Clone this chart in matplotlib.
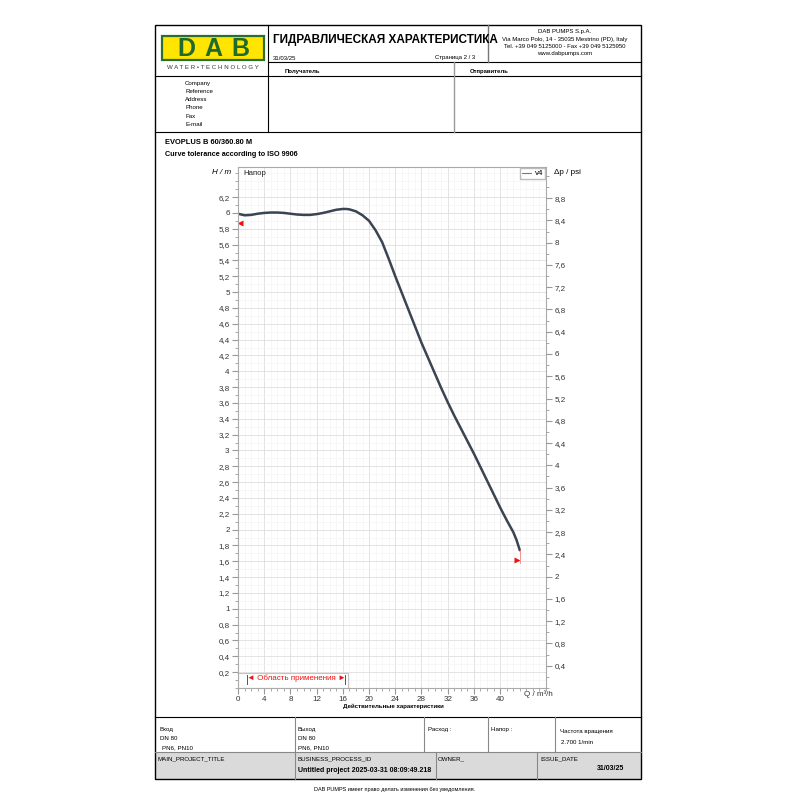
import matplotlib
matplotlib.use("Agg")
import matplotlib.pyplot as plt
from matplotlib.patches import Rectangle
from matplotlib.ticker import MultipleLocator, FixedLocator, FuncFormatter

plt.rcParams['font.family'] = ['Liberation Sans', 'DejaVu Sans']

# pump curve v4
q_flow = [0, 1, 2, 3, 4, 5, 6, 7, 8, 9, 10, 11, 12, 13, 14, 15, 16, 16.5, 17, 18,
          19, 20, 21, 22, 23, 24, 25, 26, 27, 28, 29, 30, 31, 32, 33, 34, 35, 36,
          37, 38, 39, 40, 41, 42, 42.5, 43]
h_head = [5.99, 5.97, 5.975, 5.99, 6.0, 6.005, 6.005, 6.0, 5.99, 5.98, 5.975, 5.975,
          5.985, 6.0, 6.02, 6.04, 6.05, 6.05, 6.045, 6.02, 5.97, 5.90, 5.78, 5.63,
          5.42, 5.20, 4.99, 4.78, 4.57, 4.36, 4.17, 3.98, 3.79, 3.61, 3.44, 3.28,
          3.12, 2.96, 2.79, 2.62, 2.45, 2.28, 2.12, 1.97, 1.87, 1.74]
tol_start = (0.35, 5.87)
tol_end = (42.6, 1.62)
range_q = (1.4, 16.4)
x_ticks = [0, 4, 8, 12, 16, 20, 24, 28, 32, 36, 40]
psi_per_m = 1.4223

fig = plt.figure(figsize=(8, 8), dpi=100)

# page background drawn in pixel coordinates
bg = fig.add_axes([0, 0, 1, 1])
bg.set_xlim(0, 800)
bg.set_ylim(800, 0)
bg.axis('off')

def hline(y, x0, x1, c='black', lw=0.8):
    bg.plot([x0, x1], [y, y], color=c, lw=lw)

def vline(x, y0, y1, c='black', lw=0.8):
    bg.plot([x, x], [y0, y1], color=c, lw=lw)

# grey bottom row
bg.add_patch(Rectangle((155, 752), 486, 27, facecolor='#dadada', edgecolor='none'))

# outer frame
bg.add_patch(Rectangle((155, 25), 486, 754, fill=False, edgecolor='black', lw=1.0))
hline(62, 268, 641)
hline(76, 155, 641)
hline(132, 155, 641)
vline(268, 25, 132)
vline(488, 25, 62, c='#777777', lw=1.0)
vline(454, 62, 132, c='#999999', lw=1.0)
hline(717, 155, 641)
hline(752, 155, 641, c='#888888')
vline(295, 717, 779, c='#888888')
vline(424, 717, 752, c='#888888')
vline(488, 717, 752, c='#888888')
vline(555, 717, 752, c='#888888')
vline(436, 752, 779, c='#888888')
vline(537, 752, 779, c='#888888')

# logo
bg.add_patch(Rectangle((162, 36), 102, 24, facecolor='#ffe500', edgecolor='#2b6e2f', lw=1.6))
for x, ch in zip([186, 213, 240], 'DAB'):
    bg.text(x, 48.5, ch, color='#1f6a2c', fontsize=18, fontweight='heavy',
            ha='center', va='center')
bg.text(213, 67.5, 'W A T E R \u2022 T E C H N O L O G Y', fontsize=4.4, color='#333333',
        ha='center', va='center')

bg.text(273, 40, 'ГИДРАВЛИЧЕСКАЯ ХАРАКТЕРИСТИКА', fontsize=8.5, fontweight='bold',
        ha='left', va='center')
bg.text(273, 58, '31/03/25', fontsize=4.3, ha='left', va='center')
bg.text(475, 58, 'Страница 2 / 3', fontsize=4.3, ha='right', va='center')
addr = ['DAB PUMPS S.p.A.', 'Via Marco Polo, 14 - 35035 Mestrino (PD), Italy',
        'Tel. +39 049 5125000 - Fax +39 049 5125950', 'www.dabpumps.com']
for i, s in enumerate(addr):
    bg.text(565, 32 + i * 7.3, s, fontsize=4.3, ha='center', va='center')
bg.text(285, 71, 'Получатель', fontsize=4.3, fontweight='bold', ha='left', va='center')
bg.text(470, 71, 'Отправитель', fontsize=4.3, fontweight='bold', ha='left', va='center')
for i, s in enumerate(['Company', 'Reference', 'Address', 'Phone', 'Fax', 'E-mail']):
    bg.text(185 if i < 4 else 186, 83 + i * 8.3, s, fontsize=4.4, ha='left', va='center')

bg.text(165, 142, 'EVOPLUS B 60/360.80 M', fontsize=5.4, fontweight='bold', ha='left', va='center')
bg.text(165, 155, 'Curve tolerance according to ISO 9906', fontsize=5.2, fontweight='bold',
        ha='left', va='center')
bg.text(393, 706, 'Действительные характеристики', fontsize=4.4, fontweight='bold',
        ha='center', va='center')
bg.text(222, 173, 'H / m', fontsize=5.8, ha='center', va='center', style='italic')
bg.text(567, 173, '\u0394p / psi', fontsize=5.8, ha='center', va='center')
bg.text(538, 694, 'Q / m\u00b3/h', fontsize=5.8, ha='center', va='center', color='#333333')

# bottom table
bg.text(160, 730, 'Вход', fontsize=4.4, ha='left', va='center')
bg.text(160, 739, 'DN 80', fontsize=4.4, ha='left', va='center')
bg.text(162, 748, 'PN6, PN10', fontsize=4.4, ha='left', va='center')
bg.text(298, 730, 'Выход', fontsize=4.4, ha='left', va='center')
bg.text(298, 739, 'DN 80', fontsize=4.4, ha='left', va='center')
bg.text(298, 748, 'PN6, PN10', fontsize=4.4, ha='left', va='center')
bg.text(428, 730, 'Расход :', fontsize=4.4, ha='left', va='center')
bg.text(491, 730, 'Напор :', fontsize=4.4, ha='left', va='center')
bg.text(560, 731, 'Частота вращения', fontsize=4.4, ha='left', va='center')
bg.text(561, 742, '2.700 1/min', fontsize=4.4, ha='left', va='center')
bg.text(158, 759, 'MAIN_PROJECT_TITLE', fontsize=4.4, ha='left', va='center')
bg.text(298, 759, 'BUSINESS_PROCESS_ID', fontsize=4.4, ha='left', va='center')
bg.text(298, 770, 'Untitled project 2025-03-31 08:09:49.218', fontsize=5.0,
        fontweight='bold', ha='left', va='center')
bg.text(438, 759, 'OWNER_', fontsize=4.4, ha='left', va='center')
bg.text(540, 759, 'ISSUE_DATE', fontsize=4.4, ha='left', va='center')
bg.text(597, 769, '31/03/25', fontsize=5.0, fontweight='bold', ha='left', va='center')
bg.text(395, 789, 'DAB PUMPS имеет право делать изменения без уведомления.', fontsize=4.0,
        ha='center', va='center')

# chart
ax = fig.add_axes([238 / 800, 1 - 688 / 800, 308 / 800, 521 / 800])
ax.set_xlim(0, 47)
ax.set_ylim(0, 6.58)
ax.xaxis.set_major_locator(FixedLocator(x_ticks))
ax.xaxis.set_minor_locator(MultipleLocator(1))
ax.yaxis.set_major_locator(FixedLocator([round(0.2 * i, 1) for i in range(1, 32)]))
ax.yaxis.set_minor_locator(MultipleLocator(0.1))
comma = FuncFormatter(lambda v, p: ('%g' % round(v, 1)).replace('.', ','))
ax.yaxis.set_major_formatter(comma)
ax.grid(which='major', color='#dedede', lw=0.6)
ax.grid(which='minor', color='#f2f2f2', lw=0.4)
ax.set_axisbelow(True)
for s in ax.spines.values():
    s.set_color('#aaaaaa')
    s.set_linewidth(0.8)
ax.tick_params(which='major', length=4, color='#999999', labelsize=5.8,
               labelcolor='#333333', pad=2)
ax.tick_params(which='minor', length=2, color='#999999')

ax.plot(q_flow, h_head, color='#3b4452', lw=1.8, label='v4', solid_capstyle='round')
ax.plot(*tol_start, marker='<', color='#ee1111', ms=4.5, mec='none')
ax.plot(*tol_end, marker='>', color='#ee1111', ms=4.5, mec='none')
ax.plot([q_flow[-1], q_flow[-1]], [h_head[-1], tol_end[1] - 0.04], color='#ff8080', lw=0.6)

ax.add_patch(Rectangle((0, 0), 16.8, 0.19, facecolor='white', edgecolor='#c4c4c4', lw=0.8))
for q in range_q:
    ax.plot([q, q], [0.05, 0.16], color='#ee1111', lw=0.7)
ax.text(sum(range_q) / 2, 0.12, '\u25c4 Область применения \u25ba', color='#ee1111',
        fontsize=5.8, ha='center', va='center')
ax.text(0.8, 6.5, 'Напор', fontsize=5.6, ha='left', va='center', color='#222222')
leg = ax.legend(loc='upper right', fontsize=5.8, handlelength=1.2, handletextpad=0.4,
                borderpad=0.25, borderaxespad=0.1, fancybox=False, edgecolor='#bbbbbb',
                framealpha=1)
leg.get_lines()[0].set_linewidth(0.8)
leg.get_lines()[0].set_color('#777777')

ax2 = ax.twinx()
ax2.set_ylim(0, 6.58 * psi_per_m)
ax2.yaxis.set_major_locator(FixedLocator([round(0.4 * i, 1) for i in range(1, 23)]))
ax2.yaxis.set_minor_locator(MultipleLocator(0.2))
ax2.yaxis.set_major_formatter(comma)
for s in ax2.spines.values():
    s.set_visible(False)
ax2.tick_params(which='major', length=4, color='#999999', labelsize=5.8,
                labelcolor='#333333', pad=2)
ax2.tick_params(which='minor', length=2, color='#999999')

fig.savefig('out.png', dpi=100)
